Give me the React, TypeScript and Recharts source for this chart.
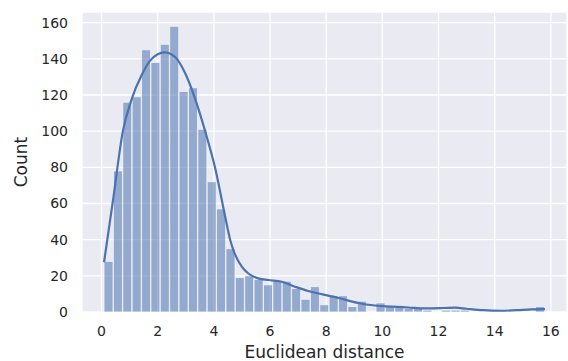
import React from 'react';
import { ComposedChart, Bar, Line, XAxis, YAxis, CartesianGrid } from 'recharts';

// Histogram bins (evenly spaced)
const binStart = 0.09;
const binWidth = 0.334;
const counts = [
  28, 78, 116, 119, 145, 138, 148, 158, 122, 124, 101, 72, 57, 35, 19, 20,
  18, 15, 17, 17, 13, 7, 14, 4, 9, 9, 3, 6, 0, 5, 3, 3,
  2, 2, 1, 0, 1, 1, 1, 0, 0, 0, 0, 0, 0, 0, 3,
];

// KDE curve (scaled to counts)
const kdeX = [
  0.09, 0.42, 0.76, 1.08, 1.43, 1.73, 2.0, 2.24, 2.62, 2.98, 3.33, 3.69, 4.04,
  4.4, 4.58, 4.75, 5.0, 5.23, 5.58, 5.94, 6.42, 6.89, 7.36, 7.84, 8.25, 8.55,
  9.14, 9.74, 10.33, 10.92, 11.52, 12.17, 12.6, 13.0, 13.6, 14.2, 14.8, 15.3, 15.79,
];
const kdeY = [
  27.5, 63, 100, 118, 131, 139, 142.5, 143.6, 141, 132, 118, 100, 80,
  53, 40, 32, 25, 21.3, 18.6, 17.7, 16.7, 14, 11.6, 9.9, 8.5, 7.3,
  5, 3.6, 3, 2.5, 2.0, 2.2, 2.4, 1.8, 1.0, 0.7, 1.0, 1.5, 1.6,
];

const xTicks = [0, 2, 4, 6, 8, 10, 12, 14, 16];
const yTicks = [0, 20, 40, 60, 80, 100, 120, 140, 160];
const xDomain = [-0.695, 16.575];
const yDomain = [0, 165.9];

const histData = counts.map((c, i) => ({ x: binStart + (i + 0.5) * binWidth, count: c }));
const kdeData = kdeX.map((x, i) => ({ x, kde: kdeY[i] }));

const FONT = '"DejaVu Sans", Verdana, sans-serif';
const TEXT = '#262626';

const YLabel = (props: any) => {
  const vb = props.viewBox || { x: 0, y: 0, width: 0, height: 0 };
  const cy = vb.y + vb.height / 2;
  const cx = 21;
  return (
    <text
      x={cx}
      y={cy}
      transform={`rotate(-90, ${cx}, ${cy})`}
      textAnchor="middle"
      dominantBaseline="central"
      fontFamily={FONT}
      fontSize={17}
      fill={TEXT}
    >
      Count
    </text>
  );
};

export default function App() {
  return (
    <div style={{ position: 'absolute', left: 0, top: 0, width: 568, height: 361, background: '#fff' }}>
      <ComposedChart
        width={568}
        height={361}
        data={histData}
        margin={{ top: 12, right: 1, left: 0, bottom: 0 }}
        barCategoryGap={0}
        barGap={0}
      >
        <CartesianGrid fill="#EAEAF2" stroke="#ffffff" strokeWidth={1.3} />
        <XAxis
          dataKey="x"
          type="number"
          domain={xDomain}
          ticks={xTicks}
          allowDataOverflow
          axisLine={false}
          tickLine={false}
          tickSize={0}
          tickMargin={14}
          height={49}
          tick={{ fill: TEXT, fontSize: 14, fontFamily: FONT }}
          label={{
            value: 'Euclidean distance',
            position: 'insideBottom',
            offset: 3,
            fill: TEXT,
            fontSize: 17,
            fontFamily: FONT,
          }}
        />
        <XAxis
          xAxisId="kde"
          dataKey="x"
          type="number"
          domain={xDomain}
          allowDataOverflow
          hide
        />
        <YAxis
          type="number"
          domain={yDomain}
          ticks={yTicks}
          allowDataOverflow
          axisLine={false}
          tickLine={false}
          tickSize={0}
          tickMargin={14}
          width={82}
          tick={{ fill: TEXT, fontSize: 14, fontFamily: FONT }}
          label={<YLabel />}
        />
        <Bar
          dataKey="count"
          fill="#4C72B0"
          fillOpacity={0.55}
          stroke="#ffffff"
          strokeOpacity={0.8}
          strokeWidth={0.8}
          isAnimationActive={false}
        />
        <Line
          xAxisId="kde"
          data={kdeData}
          dataKey="kde"
          type="monotone"
          stroke="#4C72B0"
          strokeWidth={2.2}
          dot={false}
          activeDot={false}
          isAnimationActive={false}
        />
      </ComposedChart>
    </div>
  );
}
